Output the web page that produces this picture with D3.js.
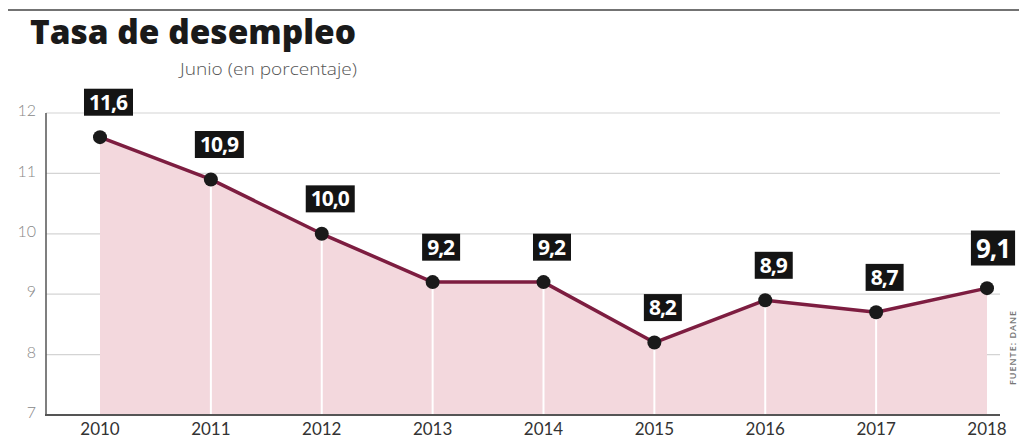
<!DOCTYPE html>
<html>
<head>
<meta charset="utf-8">
<script src="https://cdn.jsdelivr.net/npm/d3@7"></script>
<style>
  body { margin: 0; background: #fff; }
  svg { display: block; }
</style>
</head>
<body>
<div id="chart"></div>
<script>
// data
const years = ["2010", "2011", "2012", "2013", "2014", "2015", "2016", "2017", "2018"];
const rates = [11.6, 10.9, 10.0, 9.2, 9.2, 8.2, 8.9, 8.7, 9.1];
const labels = ["11,6", "10,9", "10,0", "9,2", "9,2", "8,2", "8,9", "8,7", "9,1"];
const yTicks = [7, 8, 9, 10, 11, 12];

const width = 1019, height = 440;

const svg = d3.select("#chart").append("svg")
    .attr("width", width)
    .attr("height", height);

const x = d3.scalePoint()
    .domain(years)
    .range([100, 987]);

const y = d3.scaleLinear()
    .domain([7, 12])
    .range([415, 113]);

// top rule
svg.append("line")
    .attr("x1", 8).attr("x2", width)
    .attr("y1", 10).attr("y2", 10)
    .attr("stroke", "#444").attr("stroke-width", 1.5);

svg.append("text")
    .attr("x", 30).attr("y", 44)
    .attr("font-family", "'Open Sans', Lato, sans-serif")
    .attr("font-weight", 800)
    .attr("font-size", 33)
    .attr("textLength", 326)
    .attr("lengthAdjust", "spacingAndGlyphs")
    .attr("fill", "#1a1a1a")
    .text("Tasa de desempleo");

svg.append("text")
    .attr("x", 180).attr("y", 75)
    .attr("font-family", "'Open Sans', Lato, sans-serif")
    .attr("font-weight", 300)
    .attr("font-size", 16)
    .attr("textLength", 177)
    .attr("lengthAdjust", "spacingAndGlyphs")
    .attr("fill", "#555")
    .text("Junio (en porcentaje)");

// gridlines
svg.append("g")
    .selectAll("line")
    .data(yTicks.filter(d => d > 7))
    .join("line")
    .attr("x1", 46).attr("x2", 1000)
    .attr("y1", d => y(d)).attr("y2", d => y(d))
    .attr("stroke", "#d4d4d4").attr("stroke-width", 1.2);

// y tick labels
svg.append("g")
    .selectAll("text")
    .data(yTicks)
    .join("text")
    .attr("x", 36)
    .attr("y", d => y(d))
    .attr("dy", "0.2em")
    .attr("text-anchor", "end")
    .attr("font-family", "Lato, 'Open Sans', sans-serif")
    .attr("font-weight", 300)
    .attr("font-size", 16)
    .attr("fill", "#888")
    .text(d => d);

const pts = years.map((yr, i) => ({ yr, v: rates[i], lab: labels[i] }));

// shaded area
const area = d3.area()
    .x(d => x(d.yr))
    .y0(y(7))
    .y1(d => y(d.v));

svg.append("path")
    .datum(pts)
    .attr("d", area)
    .attr("fill", "#f3d8dd");

// white drop lines
svg.append("g")
    .selectAll("line")
    .data(pts.slice(1, -1))
    .join("line")
    .attr("x1", d => x(d.yr)).attr("x2", d => x(d.yr))
    .attr("y1", d => y(d.v)).attr("y2", y(7))
    .attr("stroke", "#fff").attr("stroke-width", 2);

// axes lines
svg.append("line")
    .attr("x1", 46).attr("x2", 46)
    .attr("y1", 113).attr("y2", y(7))
    .attr("stroke", "#555").attr("stroke-width", 1.5);

svg.append("line")
    .attr("x1", 45).attr("x2", 1000)
    .attr("y1", y(7)).attr("y2", y(7))
    .attr("stroke", "#555").attr("stroke-width", 2);

// year labels
svg.append("g")
    .selectAll("text")
    .data(years)
    .join("text")
    .attr("x", d => x(d))
    .attr("y", 435)
    .attr("text-anchor", "middle")
    .attr("font-family", "Lato, 'Open Sans', sans-serif")
    .attr("font-size", 17)
    .attr("fill", "#333")
    .text(d => d);

// line
svg.append("path")
    .datum(pts)
    .attr("d", d3.line().x(d => x(d.yr)).y(d => y(d.v)))
    .attr("fill", "none")
    .attr("stroke", "#7d1d40")
    .attr("stroke-width", 3.5)
    .attr("stroke-linejoin", "round");

svg.append("g")
    .selectAll("circle")
    .data(pts)
    .join("circle")
    .attr("cx", d => x(d.yr))
    .attr("cy", d => y(d.v))
    .attr("r", 7)
    .attr("fill", "#1a1a1a");

// value labels
const lab = svg.append("g")
    .selectAll("g")
    .data(pts)
    .join("g")
    .attr("transform", (d, i) => {
      const last = i === pts.length - 1;
      return `translate(${x(d.yr) + (last ? 6 : 8)},${y(d.v) - (last ? 40 : 35)})`;
    });

lab.append("text")
    .attr("text-anchor", "middle")
    .attr("dy", "0.36em")
    .attr("font-family", "'Open Sans', sans-serif")
    .attr("font-weight", 700)
    .attr("font-size", (d, i) => i === pts.length - 1 ? 26 : 21)
    .attr("letter-spacing", -1)
    .attr("fill", "#fff")
    .text(d => d.lab)
    .each(function() {
      const b = this.getBBox();
      d3.select(this.parentNode).insert("rect", "text")
        .attr("x", b.x - 5).attr("y", b.y + 1)
        .attr("width", b.width + 10).attr("height", b.height - 1)
        .attr("fill", "#141414");
    });

// source, rotated at right edge
svg.append("text")
    .attr("transform", "translate(1016,385) rotate(-90)")
    .attr("font-family", "'Open Sans', sans-serif")
    .attr("font-weight", 600)
    .attr("font-size", 9)
    .attr("letter-spacing", 1)
    .attr("fill", "#777")
    .text("FUENTE: DANE");
</script>
</body>
</html>
